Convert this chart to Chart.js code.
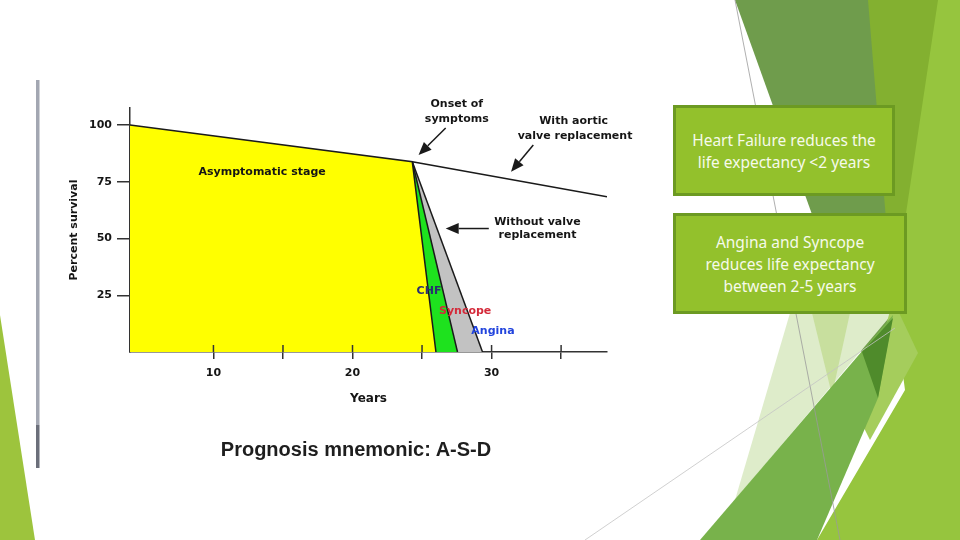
<!DOCTYPE html>
<html>
<head>
<meta charset="utf-8">
<script src="https://cdn.jsdelivr.net/npm/chart.js@4.4.1/dist/chart.umd.min.js"></script>
<style>
    body { margin: 0; width: 960px; height: 540px; overflow: hidden; background: #fff; position: relative; }
    #deco { position: absolute; left: 0; top: 0; }
    #grafico { position: absolute; left: 0; top: 0; }
    .caja {
        position: absolute; box-sizing: border-box;
        background: #93c12c; border: 3px solid #6c9a22;
        color: #f6faea; font-family: "Noto Sans", sans-serif; font-size: 15.5px; line-height: 22px;
        display: flex; align-items: center; justify-content: center; text-align: center;
    }
    #mnemonic {
        position: absolute; left: 160px; width: 392px; top: 438px; text-align: center;
        font-family: "Liberation Sans", Arial, sans-serif; font-weight: bold; font-size: 20px; color: #1e1e1e;
    }
</style>
</head>
<body>
<svg id="deco" width="960" height="540">
    <!-- franja gris del marco de la imagen -->
    <rect x="36" y="80" width="3.5" height="345" fill="#a3a7b2"/>
    <rect x="36" y="425" width="3.5" height="43" fill="#6b6f7a"/>
    <!-- triangulo izquierdo -->
    <polygon points="0,315 35,540 0,540" fill="#9dc43d"/>
    <!-- formas del tema a la derecha -->
    <polygon points="923,0 960,0 960,540 817,540 905,390 893,300" fill="#96c53e"/>
    <polygon points="865,0 938,0 893,300 880,398" fill="#83b030"/>
    <polygon points="735,0 868,0 893,305 878,398" fill="#6f9c4c"/>
    <polygon points="790,313 893,313 735,500" fill="#deecca"/>
    <polygon points="812,313 850,313 832,395" fill="#c8df9e"/>
    <polygon points="893,300 918,353 870,440 860,420" fill="#a5cd5c"/>
    <polygon points="700,540 893,315 878,398 817,540" fill="#78b24b"/>
    <polygon points="862,352 893,318 878,398" fill="#4f8b2b"/>
    <line x1="735" y1="0" x2="840" y2="540" stroke="#9a9a9a" stroke-width="0.8"/>
    <line x1="585" y1="540" x2="895" y2="328" stroke="#c4c4c4" stroke-width="0.8"/>
</svg>
<canvas id="grafico" width="960" height="540"></canvas>
<div class="caja" style="left:673px; top:105px; width:222px; height:91px;">Heart Failure reduces the<br>life expectancy &lt;2 years</div>
<div class="caja" style="left:673px; top:213px; width:234px; height:101px;">Angina and Syncope<br>reduces life expectancy<br>between 2-5 years</div>
<div id="mnemonic">Prognosis mnemonic: A-S-D</div>

<script>
// Datos (años, % de supervivencia)
const asintomaticoAnios = [4, 24.3, 26.0];
const asintomaticoSuperv = [100, 83.8, 0];
const syncopeAnios = [24.3, 27.55];
const syncopeSuperv = [83.8, 0];
const anginaAnios = [24.3, 29.35];
const anginaSuperv = [83.8, 0];
const aorticaAnios = [24.3, 38.3];
const aorticaSuperv = [83.8, 68.4];

// Ticks de los ejes
const xTickValores = [10, 15, 20, 25, 30, 35];
const xTickEtiquetas = ['10', '', '20', '', '30', ''];
const yTickValores = [25, 50, 75, 100];
const yTickEtiquetas = ['25', '50', '75', '100'];

// Textos sobre el grafico (en unidades de datos)
const notas = [
    { text: 'Asymptomatic stage', x: 13.5, y: 79.4, color: '#151515' },
    { text: 'Onset of', x: 27.5, y: 109.3, color: '#151515' },
    { text: 'symptoms', x: 27.5, y: 102.7, color: '#151515' },
    { text: 'With aortic', x: 35.9, y: 101.6, color: '#151515' },
    { text: 'valve replacement', x: 36.0, y: 95.0, color: '#151515' },
    { text: 'Without valve', x: 33.3, y: 57.3, color: '#151515' },
    { text: 'replacement', x: 33.3, y: 51.6, color: '#151515' },
    { text: 'CHF', x: 25.5, y: 26.6, color: '#2a3070' },
    { text: 'Syncope', x: 28.1, y: 18.2, color: '#d42a3a' },
    { text: 'Angina', x: 30.1, y: 9.0, color: '#2244dd' }
];
const flechas = [
    { desde: [26.7, 98.7], hasta: [24.75, 86.8] },
    { desde: [33.0, 91.2], hasta: [31.4, 79.4] },
    { desde: [29.8, 54.4], hasta: [26.7, 54.4] }
];

const aPuntos = (xs, ys) => xs.map((x, i) => ({ x: x, y: ys[i] }));
const fuente = (size) => ({ family: 'DejaVu Sans', weight: 'bold', size: size });

const pluginNotas = {
    id: 'notas',
    afterDraw(chart) {
        const { ctx } = chart;
        const sx = chart.scales.x, sy = chart.scales.y;
        ctx.save();
        // mitad interior de las marcas del eje x
        ctx.strokeStyle = '#333';
        ctx.lineWidth = 1.5;
        xTickValores.forEach(v => {
            const px = sx.getPixelForValue(v);
            ctx.beginPath();
            ctx.moveTo(px, sy.bottom);
            ctx.lineTo(px, sy.bottom - 7);
            ctx.stroke();
        });
        ctx.textAlign = 'center';
        ctx.textBaseline = 'middle';
        ctx.font = 'bold 11px "DejaVu Sans"';
        notas.forEach(n => {
            ctx.fillStyle = n.color;
            ctx.fillText(n.text, sx.getPixelForValue(n.x), sy.getPixelForValue(n.y));
        });
        ctx.strokeStyle = '#1a1a1a';
        ctx.fillStyle = '#1a1a1a';
        flechas.forEach(f => {
            const x1 = sx.getPixelForValue(f.desde[0]), y1 = sy.getPixelForValue(f.desde[1]);
            const x2 = sx.getPixelForValue(f.hasta[0]), y2 = sy.getPixelForValue(f.hasta[1]);
            const ang = Math.atan2(y2 - y1, x2 - x1);
            const largo = 13, ancho = 5.5;
            const bx = x2 - largo * Math.cos(ang), by = y2 - largo * Math.sin(ang);
            ctx.beginPath();
            ctx.moveTo(x1, y1);
            ctx.lineTo(bx, by);
            ctx.stroke();
            ctx.beginPath();
            ctx.moveTo(x2, y2);
            ctx.lineTo(bx + ancho * Math.sin(ang), by - ancho * Math.cos(ang));
            ctx.lineTo(bx - ancho * Math.sin(ang), by + ancho * Math.cos(ang));
            ctx.closePath();
            ctx.fill();
        });
        ctx.restore();
    }
};

const comun = { pointRadius: 0, borderColor: '#1a1a1a', borderWidth: 1.5, tension: 0 };

new Chart(document.getElementById('grafico'), {
    type: 'line',
    data: {
        datasets: [
            { ...comun, label: 'With aortic valve replacement', data: aPuntos(aorticaAnios, aorticaSuperv), fill: false, order: 0 },
            { ...comun, label: 'Asymptomatic stage', data: aPuntos(asintomaticoAnios, asintomaticoSuperv), fill: 'origin', backgroundColor: '#ffff00', order: 1 },
            { ...comun, label: 'Syncope', data: aPuntos(syncopeAnios, syncopeSuperv), fill: 'origin', backgroundColor: '#1ee21e', order: 2 },
            { ...comun, label: 'Angina', data: aPuntos(anginaAnios, anginaSuperv), fill: 'origin', backgroundColor: '#c2c2c2', order: 3 }
        ]
    },
    options: {
        responsive: false,
        animation: false,
        devicePixelRatio: 1,
        layout: { padding: { left: 64, top: 108, right: 353, bottom: 130 } },
        plugins: { legend: { display: false }, tooltip: { enabled: false } },
        scales: {
            x: {
                type: 'linear', min: 4, max: 38.3,
                afterBuildTicks: s => { s.ticks = xTickValores.map(v => ({ value: v })); },
                afterFit: s => { s.height = 58; },
                ticks: {
                    autoSkip: false, maxRotation: 0, padding: 8, color: '#151515', font: fuente(11),
                    callback: (v) => xTickEtiquetas[xTickValores.indexOf(v)]
                },
                grid: { drawOnChartArea: false, tickLength: 7, color: '#333', lineWidth: 1.5 },
                border: { color: '#333', width: 1.5 },
                title: { display: true, text: 'Years', color: '#151515', font: fuente(12) }
            },
            y: {
                type: 'linear', min: 0, max: 107.5,
                afterBuildTicks: s => { s.ticks = yTickValores.map(v => ({ value: v })); },
                afterFit: s => { s.width = 66; },
                ticks: {
                    autoSkip: false, padding: 5, color: '#151515', font: fuente(11),
                    callback: (v) => yTickEtiquetas[yTickValores.indexOf(v)]
                },
                grid: { drawOnChartArea: false, tickLength: 13, color: '#333', lineWidth: 1.5 },
                border: { color: '#333', width: 1.5 },
                title: { display: true, text: 'Percent survival', color: '#151515', font: fuente(11) }
            }
        }
    },
    plugins: [pluginNotas]
});
</script>
</body>
</html>
